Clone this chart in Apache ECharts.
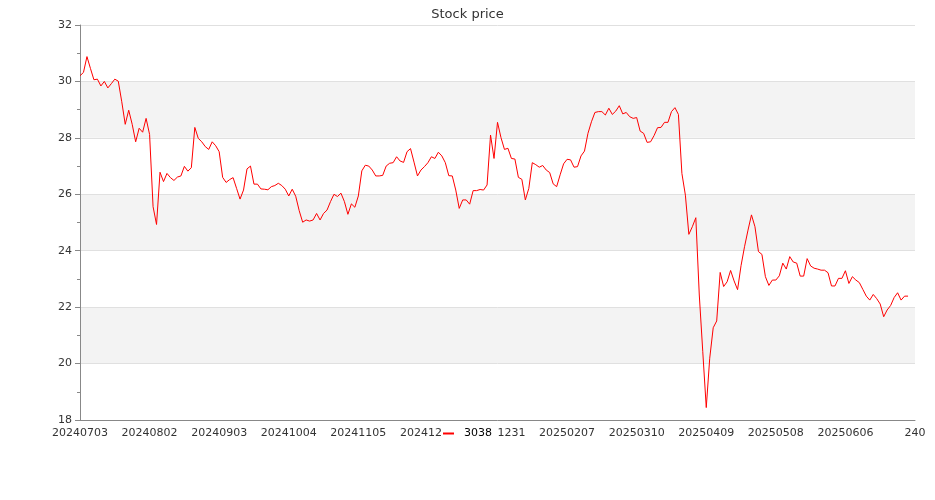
<!DOCTYPE html>
<html>
<head>
<meta charset="utf-8">
<script src="https://cdn.jsdelivr.net/npm/echarts@6/dist/echarts.min.js"></script>
<style>html,body{margin:0;padding:0;background:#fff}#c{width:935px;height:500px}</style>
</head>
<body>
<div id="c"></div>
<script>
const titleText = 'Stock price';
const seriesName = '3038';
const tickLabels = ['20240703','20240802','20240903','20241004','20241105','20241203','20241231','20250207','20250310','20250409','20250508','20250606'];
const prices = [
30.20,30.32,30.88,30.46,30.06,30.08,29.84,30.00,29.77,29.92,
30.08,30.01,29.28,28.48,28.98,28.48,27.86,28.34,28.20,28.69,
28.12,25.56,24.93,26.78,26.45,26.74,26.59,26.49,26.61,26.65,
26.99,26.82,26.94,28.37,27.98,27.86,27.69,27.59,27.86,27.72,
27.51,26.60,26.42,26.52,26.59,26.21,25.83,26.15,26.90,27.00,
26.36,26.36,26.19,26.18,26.16,26.27,26.31,26.39,26.31,26.18,
25.94,26.18,25.93,25.42,25.01,25.09,25.05,25.09,25.32,25.09,
25.32,25.44,25.74,26.00,25.92,26.04,25.74,25.29,25.66,25.54,
25.94,26.83,27.03,27.00,26.86,26.65,26.65,26.67,27.00,27.10,
27.12,27.33,27.18,27.13,27.51,27.62,27.14,26.65,26.86,26.98,
27.12,27.33,27.27,27.49,27.36,27.12,26.66,26.65,26.15,25.50,
25.80,25.80,25.65,26.13,26.13,26.17,26.15,26.33,28.10,27.27,
28.55,28.01,27.59,27.63,27.27,27.25,26.60,26.53,25.80,26.21,
27.12,27.05,26.96,27.02,26.86,26.77,26.37,26.27,26.69,27.08,
27.24,27.22,26.96,26.98,27.36,27.53,28.16,28.57,28.90,28.93,
28.93,28.81,29.05,28.83,28.95,29.14,28.85,28.90,28.75,28.69,
28.72,28.24,28.16,27.84,27.86,28.08,28.36,28.37,28.55,28.55,
28.93,29.07,28.83,26.74,25.97,24.58,24.85,25.17,22.43,20.42,
18.44,20.19,21.27,21.51,23.23,22.73,22.90,23.30,22.93,22.62,
23.47,24.14,24.73,25.27,24.85,23.97,23.87,23.08,22.77,22.96,
22.96,23.11,23.56,23.35,23.79,23.60,23.56,23.10,23.10,23.72,
23.46,23.38,23.35,23.31,23.31,23.22,22.75,22.75,23.02,23.02,
23.29,22.84,23.08,22.96,22.87,22.63,22.39,22.25,22.45,22.30,
22.11,21.66,21.90,22.06,22.34,22.51,22.25,22.39,22.39
];

const font = 'DejaVu Sans';
const chart = echarts.init(document.getElementById('c'), null, {renderer: 'canvas'});
chart.setOption({
  animation: false,
  backgroundColor: '#ffffff',
  textStyle: {fontFamily: font},
  title: {
    text: titleText, left: 'center', top: 3,
    textStyle: {fontFamily: font, fontSize: 13, fontWeight: 'normal', color: '#333'}
  },
  legend: {
    data: [seriesName], left: 'center', top: 426,
    icon: 'rect', itemWidth: 11, itemHeight: 2,
    backgroundColor: '#ffffff', padding: [2, 6, 2, 2],
    textStyle: {fontFamily: font, fontSize: 11, color: '#000', padding: [0, 0, 0, 5]}
  },
  grid: {left: 80, right: 20, top: 25, bottom: 80, containLabel: false, outerBoundsMode: 'none'},
  xAxis: {
    type: 'value', min: 0, max: 240, interval: 20,
    axisLine: {show: true, lineStyle: {color: '#888'}},
    axisTick: {show: false},
    splitLine: {show: false},
    axisLabel: {
      fontFamily: font, fontSize: 11, color: '#333', margin: 8,
      formatter: function (v) { const t = tickLabels[v / 20]; return t !== undefined ? t : String(v); }
    }
  },
  yAxis: {
    type: 'value', min: 18, max: 32, interval: 2,
    axisLine: {show: true, lineStyle: {color: '#888'}},
    axisTick: {show: true, length: 5, lineStyle: {color: '#888'}},
    minorTick: {show: true, splitNumber: 2, length: 3, lineStyle: {color: '#888'}},
    splitLine: {show: true, lineStyle: {color: '#e0e0e0'}},
    splitArea: {show: true, areaStyle: {color: ['#ffffff', '#f3f3f3']}},
    axisLabel: {fontFamily: font, fontSize: 11, color: '#333', margin: 8}
  },
  series: [{
    name: seriesName, type: 'line',
    data: prices.map((v, i) => [i, v]),
    showSymbol: false, symbol: 'none',
    lineStyle: {color: '#ff0000', width: 1},
    itemStyle: {color: '#ff0000'}
  }]
});
</script>
</body>
</html>
